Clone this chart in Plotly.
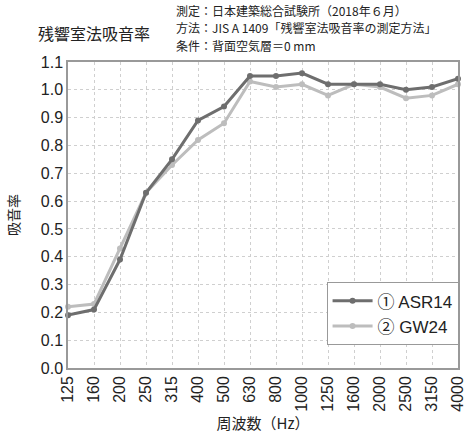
import plotly.graph_objects as go

freqs = ["125", "160", "200", "250", "315", "400", "500", "630", "800", "1000",
         "1250", "1600", "2000", "2500", "3150", "4000"]
asr14 = [0.19, 0.21, 0.39, 0.63, 0.75, 0.89, 0.94, 1.05, 1.05, 1.06,
         1.02, 1.02, 1.02, 1.00, 1.01, 1.04]
gw24 = [0.22, 0.23, 0.43, 0.63, 0.73, 0.82, 0.88, 1.03, 1.01, 1.02,
        0.98, 1.02, 1.01, 0.97, 0.98, 1.02]
y_ticks = [0.0, 0.1, 0.2, 0.3, 0.4, 0.5, 0.6, 0.7, 0.8, 0.9, 1.0, 1.1]
notes = ["測定：日本建築総合試験所（2018年６月）",
         "方法：JIS A 1409「残響室法吸音率の測定方法」",
         "条件：背面空気層＝0 mm"]

FONT = "Liberation Sans, Noto Sans CJK JP, sans-serif"
CJK = "Noto Sans CJK JP, sans-serif"

fig = go.Figure()
fig.add_trace(go.Scatter(x=freqs, y=gw24, mode="lines+markers", name="② GW24",
                         line=dict(color="#bdbdbd", width=3),
                         marker=dict(size=6, color="#bdbdbd"), cliponaxis=False))
fig.add_trace(go.Scatter(x=freqs, y=asr14, mode="lines+markers", name="① ASR14",
                         line=dict(color="#6e6e6e", width=3),
                         marker=dict(size=6, color="#6e6e6e"), cliponaxis=False))

fig.update_layout(
    width=472, height=436,
    margin=dict(l=68, r=6, t=62, b=68),
    paper_bgcolor="white", plot_bgcolor="white",
    font=dict(family=FONT, color="#222", size=14),
    showlegend=True,
    legend=dict(x=0.663, y=0.28, xanchor="left", yanchor="top",
                bordercolor="#999", borderwidth=1, bgcolor="white",
                traceorder="reversed", font=dict(size=17, family=FONT),
                itemwidth=40),
    xaxis=dict(type="category", range=[0, 15], tickangle=-90,
               showgrid=True, gridcolor="#cfcfcf", griddash="dot", gridwidth=1,
               showline=True, linecolor="#999", mirror=True, linewidth=1.5,
               ticks="", tickfont=dict(size=16, family=FONT),
               title=dict(text="周波数（Hz）", font=dict(size=15, family=CJK), standoff=8)),
    yaxis=dict(range=[0, 1.1], tickvals=y_ticks, tickformat=".1f",
               showgrid=True, gridcolor="#cfcfcf", griddash="dot", gridwidth=1,
               showline=True, linecolor="#999", mirror=True, linewidth=1.5,
               ticks="", tickfont=dict(size=16, family=FONT), zeroline=False,
               title=dict(text="吸音率", font=dict(size=14, family=CJK), standoff=18)),
)

fig.add_annotation(text="残響室法吸音率", xref="paper", yref="paper",
                   x=-0.083, y=1.095, xanchor="left", yanchor="middle",
                   showarrow=False, font=dict(size=16, family=CJK, color="#222"))
for i, line in enumerate(notes):
    fig.add_annotation(text=line, xref="paper", yref="paper",
                       x=0.272, y=1 + (62 - 10.5 - 17.5 * i) / 306,
                       xanchor="left", yanchor="middle", align="left",
                       showarrow=False, font=dict(size=12, family=CJK, color="#222"))

fig.write_html("out.html", config={"displayModeBar": False},
               post_script="document.body.style.margin='0';document.body.style.padding='0';")
